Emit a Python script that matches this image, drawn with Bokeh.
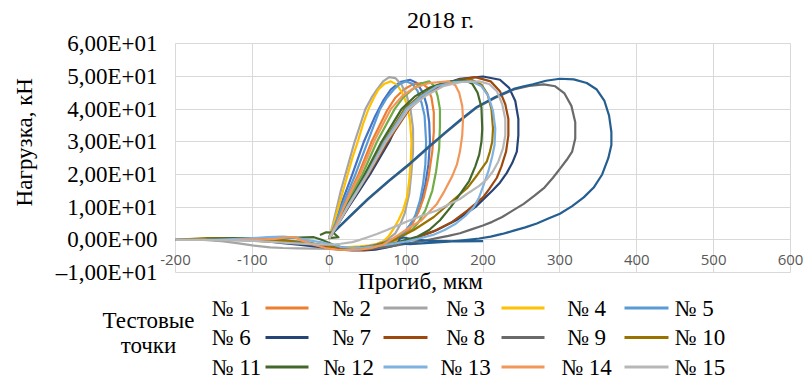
import math
from bokeh.plotting import figure
from bokeh.models import Range1d, FixedTicker, ColumnDataSource
from bokeh.core.properties import value
from bokeh.embed import file_html
from bokeh.resources import INLINE

# ---------------- data ----------------
series_names = ["№ 1", "№ 2", "№ 3", "№ 4", "№ 5", "№ 6", "№ 7", "№ 8",
                "№ 9", "№ 10", "№ 11", "№  12", "№ 13", "№ 14", "№ 15"]
series_colors = ["#4472C4", "#ED7D31", "#A5A5A5", "#FFC000", "#5B9BD5",
                 "#70AD47", "#264478", "#9E480E", "#6A6A6A", "#997300",
                 "#255E91", "#43682B", "#7FB2E0", "#F1975A", "#B7B7B7"]

x_ticks = [-200, -100, 0, 100, 200, 300, 400, 500, 600]
x_tick_labels = ["-200", "-100", "0", "100", "200", "300", "400", "500", "600"]
y_ticks = [-10, 0, 10, 20, 30, 40, 50, 60]
y_tick_labels = ["–1,00E+01", "0,00E+00", "1,00E+01", "2,00E+01",
                 "3,00E+01", "4,00E+01", "5,00E+01", "6,00E+01"]

defl_01 = [0, 7, 14, 22, 30, 45, 60, 70, 80, 92, 105, 114, 122, 127, 130, 131, 129, 125, 118, 110, 100, 90, 80, 70, 55, 40, 25, 10, -10, -30, -55, -80, -115, -150, -200]
load_01 = [0.5, 5, 10, 15, 20, 30, 38, 42.5, 46, 48.3, 49, 48, 45, 41, 36, 30, 23, 17, 10, 6, 3, 1, -0.2, -1, -2, -2.5, -2.7, -2.5, -1.8, -1, -0.2, 0.2, 0.4, 0.3, 0]

defl_02 = [0, 9, 18, 28, 38, 55, 75, 86, 97, 108, 120, 128, 133, 136, 136, 134, 129, 123, 116, 104, 88, 75, 60, 45, 30, 15, 0, -15, -30, -45, -60, -80, -100, -150]
load_02 = [0.5, 5, 10, 15, 20, 30, 39.5, 43.5, 46, 47.5, 48, 46.5, 43.5, 39, 33, 27, 19, 13, 8.5, 3, 0, -1, -2, -2.7, -3, -3, -2.5, -1.5, -0.5, 0.8, 0.5, 0.2, 0, -0.2]

defl_03 = [0, 5, 10, 15, 21, 27, 33, 40, 47, 55, 62, 70, 78, 86, 94, 101, 106, 109, 109, 107, 104, 98, 92, 86, 78, 70, 60, 50, 40, 30, 15, 0, -20, -40, -60, -77, -100, -120, -140, -163, -200]
load_03 = [0.5, 5, 10, 15, 20, 25, 30, 35, 40, 43.5, 46, 48.5, 49.8, 49.5, 47.5, 44, 39.5, 34, 27, 21, 14, 8, 4.5, 2, 0.5, -0.5, -1.5, -2.5, -2.8, -3, -3, -2.8, -2.7, -2.6, -2.5, -2.3, -1.7, -1, -0.4, 0, 0]

defl_04 = [0, 6, 12, 18, 24, 30, 37, 44, 51, 58, 64, 72, 80, 88, 95, 101, 105, 107, 106, 104, 101, 96, 90, 84, 77, 70, 62, 52, 40, 20, 0, -20, -40, -70, -100]
load_04 = [0.5, 5, 10, 15, 20, 25, 30, 35.5, 40, 43.5, 46, 47.8, 48.5, 47.5, 45, 41.5, 36.5, 30, 24, 18, 13, 9, 6, 3.5, 1, -0.5, -1.2, -1.7, -2, -2.3, -1.8, -1.4, -1, -0.6, -0.3]

defl_05 = [0, 8, 16, 25, 34, 50, 66, 75, 84, 92, 100, 108, 115, 120, 124, 126, 125, 122, 118, 112, 105, 97, 85, 72, 60, 45, 30, 15, 0, -20, -40, -80, -120]
load_05 = [0.5, 5, 10, 15, 20, 30, 40, 43.5, 46, 47.8, 48.5, 47.8, 45.5, 42, 38, 30, 23, 17, 12, 7.5, 4.5, 2, 0.5, -0.7, -1.5, -2.2, -2.5, -2.4, -2, -1.2, -0.5, 0.1, 0.3]

defl_06 = [0, 10, 20, 31, 43, 62, 85, 96, 108, 119, 130, 137, 141, 144, 144, 143, 139, 134, 125, 115, 105, 90, 75, 60, 45, 30, 15, 0, -20, -40, -65, -90, -115, -140, -180]
load_06 = [0.5, 5, 10, 15, 20, 30, 40, 43.5, 46, 47.8, 48.5, 47, 44, 40, 35, 28, 21, 15, 9, 5, 2.5, 0.5, -1, -2, -2.5, -2.8, -2.6, -2, -1.3, -0.8, 0, 0.5, 0.4, 0.2, 0]

defl_07 = [0, 12, 25, 39, 53, 78, 98, 118, 140, 170, 200, 222, 234, 242, 246, 246, 244, 238, 231, 222, 212, 190, 165, 140, 115, 90, 75, 60, 45, 30, 15, 0, -20, -40, -60, -80, -100, -120]
load_07 = [0.5, 5, 10, 15, 20, 30, 40, 44, 47, 49.3, 50, 49, 46.5, 42.5, 37, 32, 27, 23.5, 20.5, 17.5, 15, 10, 6, 3, 0.8, -1.5, -2.3, -3, -3.2, -3.2, -3, -2.5, -2, -1.5, -1, -0.5, -0.2, 0]

defl_08 = [0, 12, 24, 37, 51, 76, 104, 125, 145, 168, 190, 210, 222, 229, 233, 233, 230, 224, 218, 208, 200, 180, 160, 135, 110, 95, 80, 65, 50, 35, 20, 5, -10, -30, -50, -75, -100, -150, -200]
load_08 = [0.5, 5, 10, 15, 20, 30, 40, 44.5, 47, 49, 49.8, 48.5, 45.5, 41.5, 37, 32, 27, 22.5, 19, 15.5, 13, 9, 5.5, 2.5, 0.5, -0.5, -1.5, -2.3, -3, -3.1, -3, -2.6, -2, -1.2, -0.5, -0.1, 0, 0, 0]

defl_09 = [0, 25, 50, 78, 105, 128, 150, 172, 192, 216, 240, 260, 279, 294, 306, 315, 320, 320, 316, 309, 301, 291, 280, 267, 253, 239, 225, 212, 200, 185, 170, 155, 140, 125, 110, 95, 80, 65, 50, 35, 20, 0]
load_09 = [1, 6.7, 12.3, 18, 23.2, 28, 32.5, 36.8, 40.5, 43.5, 46, 47.1, 47.6, 47, 44.8, 41, 36, 31, 27, 24.5, 22, 19, 16, 13.5, 11, 9, 7, 5.5, 4.4, 3.2, 2, 1.2, 0.5, -0.2, -0.8, -1.4, -2, -2.5, -2.8, -2.8, -2.5, -1.5]

defl_10 = [0, 12, 23, 35, 48, 71, 98, 118, 138, 160, 185, 198, 206, 211, 213, 212, 209, 205, 193, 180, 158, 136, 110, 85, 70, 55, 40, 25, 10, -10, -30, -50, -75, -100, -130, -160, -200]
load_10 = [0.5, 5, 10, 15, 20, 30, 40, 44, 47, 48.5, 49, 47.5, 44.5, 40, 34, 30, 27, 24, 20, 16, 11.5, 7, 3, 0, -1, -2, -2.4, -2.5, -2.2, -1.5, -1, -0.5, 0, 0.3, 0.5, 0.5, 0]

defl_11 = [0, 25, 50, 78, 105, 128, 150, 172, 192, 216, 240, 253, 265, 282, 300, 318, 335, 348, 358, 364, 367, 367, 363, 355, 344, 331, 316, 300, 285, 270, 255, 240, 225, 210, 195, 180, 160, 140, 120, 105, 95, 90, 92, 97, 105, 130, 170, 200]
load_11 = [1, 6.8, 12.5, 18.2, 23.4, 28.2, 32.7, 37, 40.7, 43.7, 46.2, 47, 47.6, 48.7, 49.3, 49.1, 48, 46, 42.5, 38, 33, 29, 25, 20, 16, 13, 10.3, 8, 6.5, 5, 3.8, 2.8, 1.8, 1, 0.4, 0, -0.5, -0.8, -1.1, -1.3, -1.2, -0.6, 0.4, 0.7, 0.3, -0.3, -0.5, -0.4]

defl_12 = [-12, -4, 5, 12, 0, 11, 22, 34, 46, 68, 94, 112, 130, 152, 175, 186, 193, 198, 199, 198, 195, 190, 182, 170, 158, 144, 130, 115, 100, 85, 68, 50, 35, 20, 8, 0, -10, -20, -40, -60, -90, -120, -160]
load_12 = [1.5, 2.3, 2.2, 0.8, 0.5, 5, 10, 15, 20, 30, 40, 44, 46.5, 48.3, 49, 47.8, 45, 40.5, 34, 30, 26, 22.5, 18, 14, 10, 6, 3, 1, 0, -1, -1.8, -2.5, -2.7, -2.5, -1.8, -1, 0, 0.8, 0.7, 0.5, 0.5, 0.5, 0.3]

defl_13 = [0, 12, 23, 36, 49, 72, 100, 120, 140, 162, 185, 198, 207, 213, 216, 215, 212, 207, 201, 195, 188, 177, 165, 150, 135, 118, 100, 80, 60, 45, 30, 15, 5, -10, -30, -45, -60, -80, -100, -125, -150, -200]
load_13 = [0.5, 5, 10, 15, 20, 30, 40, 44, 47, 48.3, 48.5, 47, 44, 39.5, 34, 29, 25.5, 21, 17, 13, 10, 7.3, 5, 3, 1.5, 0.5, -0.5, -1.3, -2, -2.4, -2.5, -2.2, -1.5, -0.8, 0, 0.7, 1, 0.8, 0.5, 0.2, 0, 0]

defl_14 = [0, 10, 19, 29, 40, 58, 80, 95, 110, 130, 155, 164, 169, 173, 174, 173, 170, 166, 160, 150, 140, 130, 120, 105, 90, 80, 70, 55, 40, 25, 10, -5, -20, -35, -45, -60, -70, -95, -120]
load_14 = [0.5, 5, 10, 15, 20, 30, 40, 44, 46.5, 48, 48.5, 47.3, 45, 41, 37, 32, 27, 23, 19.5, 15, 11, 8.5, 6, 3.9, 1.5, 0, -1.5, -2.5, -3, -3.1, -3, -2.5, -1.5, -0.3, 0.8, 0.6, 0.3, 0.1, 0]

defl_15 = [0, 12, 24, 37, 50, 74, 103, 125, 148, 172, 195, 208, 218, 225, 229, 229, 226, 220, 213, 205, 195, 182, 170, 155, 140, 122, 105, 90, 75, 62, 50, 40, 30, 15, 0, -25, -50, -75, -100, -130, -160, -200]
load_15 = [0.5, 5, 10, 15, 20, 30, 40, 44, 47, 48.3, 48.5, 47.7, 45.5, 41.5, 37, 32, 28, 24, 21, 18.5, 16.5, 14.5, 12.5, 10.8, 9, 7.5, 6, 4.5, 3, 1.8, 0.8, 0, -0.7, -1.2, -1.5, -1.3, -1, -0.6, -0.3, -0.1, 0, 0]

deflections = [defl_01, defl_02, defl_03, defl_04, defl_05, defl_06, defl_07, defl_08,
               defl_09, defl_10, defl_11, defl_12, defl_13, defl_14, defl_15]
loads = [load_01, load_02, load_03, load_04, load_05, load_06, load_07, load_08,
         load_09, load_10, load_11, load_12, load_13, load_14, load_15]

title_text = "2018 г."
y_title = "Нагрузка, кН"
x_title = "Прогиб, мкм"
legend_title = ["Тестовые", "точки"]

# ---------------- layout ----------------
SERIF = "Liberation Serif"
W, H = 805, 379
FRAME_L, FRAME_R, FRAME_T, FRAME_B = 175, 790, 43.3, 272  # pixel box of the plot area
X0, X1 = x_ticks[0], x_ticks[-1]
Y0, Y1 = y_ticks[0], y_ticks[-1]

def dx(px):
    return X0 + (px - FRAME_L) * (X1 - X0) / (FRAME_R - FRAME_L)

def dy(py):
    return Y1 - (py - FRAME_T) * (Y1 - Y0) / (FRAME_B - FRAME_T)

p = figure(width=W, height=H, output_backend="svg", toolbar_location=None,
           title=None, min_border=0,
           x_range=Range1d(dx(0), dx(W)), y_range=Range1d(dy(H), dy(0)))
p.background_fill_color = "white"
p.border_fill_color = "white"
p.outline_line_color = None

xt = FixedTicker(ticks=x_ticks)
yt = FixedTicker(ticks=y_ticks)
p.xaxis.ticker = xt
p.yaxis.ticker = yt
p.xgrid.ticker = xt
p.ygrid.ticker = yt
p.xgrid.grid_line_color = "#D9D9D9"
p.ygrid.grid_line_color = "#D9D9D9"
p.xgrid.bounds = (X0, X1)
p.ygrid.bounds = (Y0, Y1)
p.xgrid.cross_bounds = (Y0, Y1)
p.ygrid.cross_bounds = (X0, X1)

p.yaxis.fixed_location = X0
p.yaxis.major_label_overrides = {t: s for t, s in zip(y_ticks, y_tick_labels)}
p.yaxis.major_label_text_font = SERIF
p.yaxis.major_label_text_font_size = "23px"
p.yaxis.major_label_text_color = "black"
p.yaxis.axis_line_color = None
p.yaxis.major_tick_line_color = None
p.yaxis.minor_tick_line_color = None
p.yaxis.major_label_standoff = 12

p.xaxis.fixed_location = 0
p.xaxis.major_label_overrides = {t: s for t, s in zip(x_ticks, x_tick_labels)}
p.xaxis.major_label_text_font = "Open Sans"
p.xaxis.major_label_text_font_size = "15px"
p.xaxis.major_label_text_color = "#595959"
p.xaxis.axis_line_color = None
p.xaxis.major_tick_line_color = None
p.xaxis.minor_tick_line_color = None
p.xaxis.major_label_standoff = 9

for xs, ys, c in zip(deflections, loads, series_colors):
    p.line(xs, ys, line_color=c, line_width=2.2, line_join="round")

# texts placed by pixel position
def add_text(text, px, py, align="center", size="23px", angle=0.0):
    p.text(x=[dx(px)], y=[dy(py)], text=[text], angle=angle,
           text_align=align, text_baseline="middle",
           text_font=value(SERIF), text_font_size=size, text_color="black")

add_text(title_text, 440, 19, size="24px")
add_text(y_title, 24, 141.7, angle=math.pi / 2)
add_text(x_title, 420, 281)
add_text(legend_title[0], 148, 320)
add_text(legend_title[1], 148, 345)

row_y = [307.5, 337, 366.5]
col_x = [211, 351, 465, 586, 674]
col_align = ["left", "center", "center", "center", "left"]
line_x = [(265, 308), (383, 427), (501, 544), (624, 668)]
seg = dict(x0=[], y0=[], x1=[], y1=[], color=[])
for r in range(3):
    for c in range(5):
        idx = 5 * r + c
        add_text(series_names[idx], col_x[c], row_y[r], align=col_align[c])
        if c < 4:
            a, b = line_x[c]
            seg["x0"].append(dx(a)); seg["x1"].append(dx(b))
            seg["y0"].append(dy(row_y[r])); seg["y1"].append(dy(row_y[r]))
            seg["color"].append(series_colors[idx + 1])
p.segment(x0="x0", y0="y0", x1="x1", y1="y1", line_color="color",
          line_width=3, source=ColumnDataSource(seg))

open("out.html", "w").write(file_html(p, INLINE))
